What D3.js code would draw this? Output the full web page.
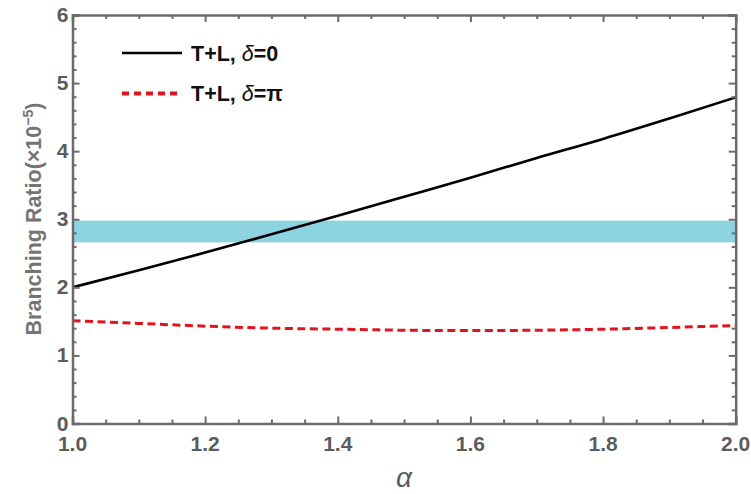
<!DOCTYPE html>
<html><head><meta charset="utf-8">
<script src="https://cdn.jsdelivr.net/npm/d3@7/dist/d3.min.js"></script>
<style>body{margin:0;background:#fff}svg{display:block}</style>
</head><body><svg id="c" width="751" height="494"></svg>
<script>
const alpha = [1.0,1.1,1.2,1.3,1.4,1.5,1.6,1.7,1.8,1.9,2.0];
const brDelta0 = [2.00,2.25,2.51,2.78,3.05,3.33,3.61,3.90,4.18,4.48,4.79];
const brDeltaPi = [1.51,1.47,1.43,1.40,1.385,1.37,1.365,1.37,1.385,1.41,1.44];
const bandRange = [2.66,2.98];
const xTicks = [1.0,1.2,1.4,1.6,1.8,2.0];
const yTicks = [0,1,2,3,4,5,6];
const legendLabels = ["T+L, ", "T+L, "];
const legendSym = ["δ", "δ"];
const legendVal = ["=0", "=π"];

const svg = d3.select("#c");
const L=72.5, R=735.7, T=15, B=423.5;
const x = d3.scaleLinear().domain([1,2]).range([L,R]);
const y = d3.scaleLinear().domain([0,6]).range([B,T]);
const axisCol = "#6b6b6b", labCol = "#5c5c5c";
const font = "'Liberation Sans', Arial, sans-serif";

// band
svg.append("rect").attr("x",x(1)).attr("width",x(2)-x(1))
  .attr("y",y(bandRange[1])).attr("height",y(bandRange[0])-y(bandRange[1]))
  .attr("fill","#8ed3e1");

// lines
const line = d3.line().x((d,i)=>x(alpha[i])).y(d=>y(d)).curve(d3.curveMonotoneX);
svg.append("path").datum(brDelta0).attr("d",line).attr("fill","none")
  .attr("stroke","#000").attr("stroke-width",2.6);
svg.append("path").datum(brDeltaPi).attr("d",line).attr("fill","none")
  .attr("stroke","#e0141e").attr("stroke-width",3).attr("stroke-dasharray","8,4.5");

// frame axes with inward ticks
const xMinor = d3.range(1,2.0001,0.05).filter(v=>Math.abs(Math.round(v*5)-v*5)>1e-6);
const yMinor = d3.range(0,6.0001,0.2).filter(v=>Math.abs(Math.round(v)-v)>1e-6);
function ax(gen, tr, ticks, size){
  const g = svg.append("g").attr("transform",tr).call(gen.tickValues(ticks).tickSize(size).tickFormat(""));
  g.selectAll("path,line").attr("stroke",axisCol).attr("stroke-width",2);
  return g;
}
ax(d3.axisTop(x),`translate(0,${B})`,xTicks,7);
ax(d3.axisTop(x),`translate(0,${B})`,xMinor,4).select("path").remove();
ax(d3.axisBottom(x),`translate(0,${T})`,xTicks,7);
ax(d3.axisBottom(x),`translate(0,${T})`,xMinor,4).select("path").remove();
ax(d3.axisRight(y),`translate(${L},0)`,yTicks,7);
ax(d3.axisRight(y),`translate(${L},0)`,yMinor,4).select("path").remove();
ax(d3.axisLeft(y),`translate(${R},0)`,yTicks,7);
ax(d3.axisLeft(y),`translate(${R},0)`,yMinor,4).select("path").remove();
svg.selectAll(".domain").attr("stroke-width",2.5);

// tick labels
svg.append("g").selectAll("text").data(xTicks).join("text")
  .attr("x",d=>x(d)).attr("y",B+27).attr("text-anchor","middle")
  .attr("font-family",font).attr("font-size",21).attr("font-weight","bold").attr("fill",labCol)
  .text(d=>d3.format(".1f")(d));
svg.append("g").selectAll("text").data(yTicks).join("text")
  .attr("x",L-4).attr("y",d=>y(d)+7).attr("text-anchor","end")
  .attr("font-family",font).attr("font-size",21).attr("font-weight","bold").attr("fill",labCol)
  .text(d=>d);

// axis titles
const yt = svg.append("text").attr("transform",`translate(41,${219}) rotate(-90)`)
  .attr("text-anchor","middle").attr("font-family",font).attr("font-size",21.5)
  .attr("font-weight","bold").attr("fill","#747474");
yt.append("tspan").text("Branching Ratio(×10");
yt.append("tspan").attr("dy",-8).attr("font-size",14).text("−5");
yt.append("tspan").attr("dy",8).text(")");
svg.append("text").attr("x",(L+R)/2).attr("y",487).attr("text-anchor","middle")
  .attr("font-family",font).attr("font-size",28).attr("font-style","italic")
  .attr("fill",labCol).text("α");

// legend
const legY = [53, 93.5];
const legStyle = [{c:"#000",w:2.6,d:null},{c:"#e0141e",w:4,d:"7,5"}];
legY.forEach((ly,i)=>{
  svg.append("line").attr("x1",122).attr("x2",i?178:182).attr("y1",ly).attr("y2",ly)
    .attr("stroke",legStyle[i].c).attr("stroke-width",legStyle[i].w)
    .attr("stroke-dasharray",legStyle[i].d);
  const t = svg.append("text").attr("x",191).attr("y",ly+7.5)
    .attr("font-family",font).attr("font-size",21.5).attr("font-weight","bold").attr("fill","#111");
  t.append("tspan").text(legendLabels[i]);
  t.append("tspan").attr("font-style","italic").attr("font-weight","normal").text(legendSym[i]);
  t.append("tspan").text(legendVal[i]);
});
</script></body></html>
